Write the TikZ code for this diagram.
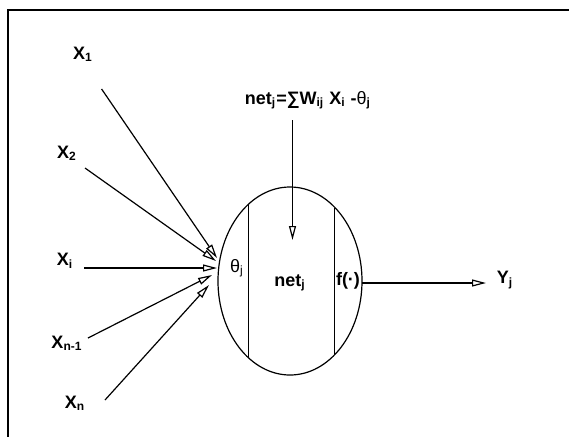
\documentclass[tikz,border=0pt]{standalone}
\usepackage{fontspec}
\setmainfont{Liberation Sans}
\usetikzlibrary{arrows.meta,shapes.geometric}

\begin{document}
\begin{tikzpicture}[x=.5pt,y=-.5pt,>={Triangle[open,length=7pt,width=3.5pt]},
  lab/.style={font=\bfseries\fontsize{9}{10}\selectfont,inner sep=0pt},
  wire/.style={line width=.6pt},
  cell/.style={draw,ellipse,line width=.6pt,minimum width=72pt,minimum height=94pt,inner sep=0pt}]
\useasboundingbox (0,0) rectangle (569,436);
\draw[line width=1.2pt] (8,440) -- (8,10) -- (572,10);
% neuron
\node[cell] (cell) at (290,281) {};
\draw[line width=.6pt] (248.5,205) -- (248.5,357);
\draw[line width=.6pt] (334.5,208) -- (334.5,355);
\node[lab,font=\fontsize{9}{10}\selectfont] (th) at (237,268) {θ\textsubscript{j}};
\node[lab] (netj) at (290,283) {net\textsubscript{j}};
\node[lab] (f) at (348,281) {f(·)};
% inputs
\foreach \n/\lab/\lx/\ly/\sx/\sy/\ex/\ey in {1/1/83/54/101.6/89/217/258,2/2/67/153/85/168/216/261,
  i/i/65/261/84/268/217/268,m/n-1/67/343/88/338/212/275,n/n/75/403/105/400/209/285}{
\node[lab] (x\n) at (\lx,\ly) {X\textsubscript{\lab}};
\coordinate (s\n) at (\sx,\sy);\coordinate (e\n) at (\ex,\ey);
\draw[wire,->] (s\n) -- (e\n);}
% net input
\node[lab] (sum) at (308,100) {net\textsubscript{j}=∑W\textsubscript{ij} X\textsubscript{i} -{\mdseries θ}\textsubscript{j}};
\coordinate (top) at (292.5,120);\coordinate (topend) at (292.5,240);
\draw[wire,->] (top) -- (topend);
% output
\coordinate (out) at (362,283);\coordinate (outend) at (486,283);
\node[lab] (y) at (505,280) {Y\textsubscript{j}};
\draw[wire,->] (out) -- (outend);
\end{tikzpicture}
\end{document}
